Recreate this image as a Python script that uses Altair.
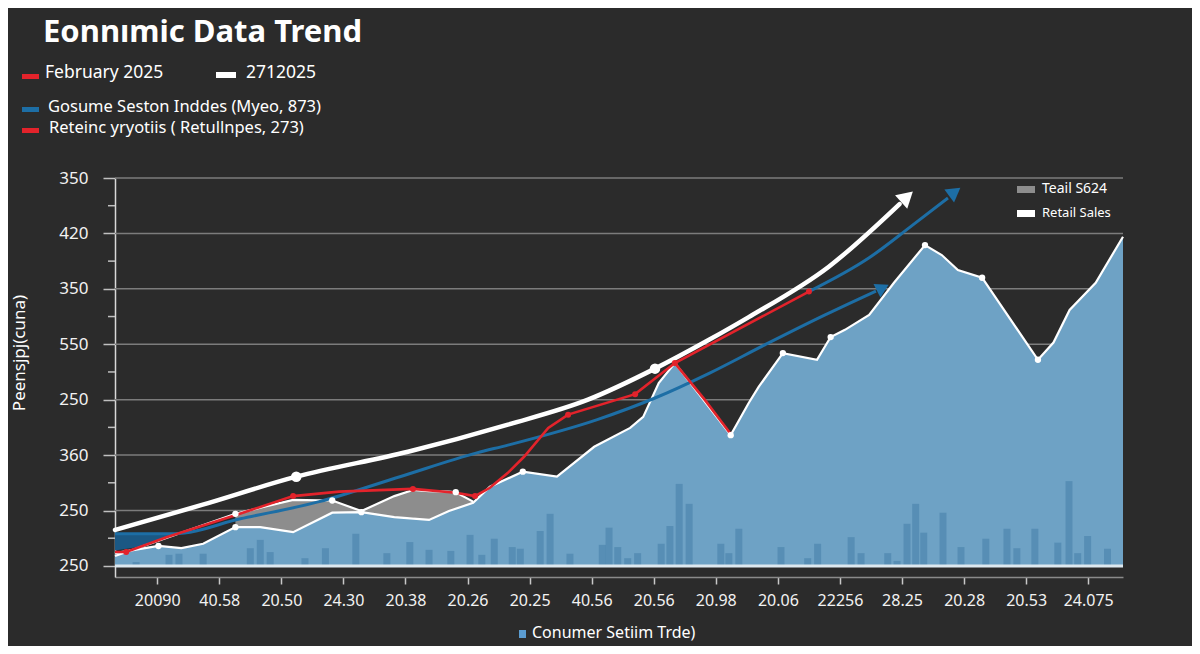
import altair as alt
import pandas as pd

# ---------------- data ----------------
X_LABELS = ["20090", "40.58", "20.50", "24.30", "20.38", "20.26", "20.25", "40.56",
            "20.56", "20.98", "20.06", "22256", "28.25", "20.28", "20.53", "24.075"]
Y_LABELS = ["250", "250", "360", "250", "550", "350", "420", "350"]

AREA_X = [-0.68, 0.02, 0.39, 0.74, 1.26, 1.66, 2.19, 2.82, 3.29, 3.82, 4.38, 4.70, 5.09,
          5.36, 5.89, 6.44, 7.04, 7.62, 7.83, 8.08, 8.34, 9.24, 9.53, 9.69, 10.08, 10.63,
          10.85, 11.08, 11.47, 11.87, 12.37, 12.64, 12.90, 13.29, 14.19, 14.44, 14.70,
          15.12, 15.56]
AREA_Y = [0.23, 0.36, 0.32, 0.40, 0.70, 0.70, 0.61, 0.96, 0.97, 0.88, 0.83, 0.99, 1.14,
          1.43, 1.70, 1.61, 2.15, 2.49, 2.69, 3.30, 3.66, 2.36, 2.94, 3.23, 3.84, 3.72,
          4.13, 4.26, 4.53, 5.11, 5.79, 5.61, 5.34, 5.20, 3.72, 4.03, 4.62, 5.11, 5.94]
AREA_DOT_X = [0.02, 1.26, 3.29, 5.89, 9.24, 10.08, 10.85, 12.37, 13.29, 14.19]
AREA_DOT_Y = [0.36, 0.70, 0.97, 1.70, 2.36, 3.84, 4.13, 5.79, 5.20, 3.72]

BAR_X = [-0.34, 0.19, 0.35, 0.74, 1.50, 1.66, 1.82, 2.38, 2.71, 3.20, 3.70, 4.07, 4.38,
         4.73, 5.04, 5.23, 5.43, 5.72, 5.85, 6.17, 6.33, 6.65, 7.17, 7.28, 7.42, 7.58,
         7.74, 8.12, 8.26, 8.41, 8.57, 9.08, 9.21, 9.37, 10.05, 10.48, 10.64, 11.18,
         11.34, 11.77, 11.92, 12.08, 12.22, 12.35, 12.66, 12.95, 13.35, 13.69, 13.85,
         14.14, 14.51, 14.69, 14.83, 14.99, 15.31]
BAR_H = [0.07, 0.20, 0.22, 0.22, 0.32, 0.47, 0.25, 0.14, 0.32, 0.58, 0.23, 0.43, 0.29,
         0.27, 0.56, 0.20, 0.49, 0.34, 0.31, 0.63, 0.94, 0.22, 0.38, 0.69, 0.34, 0.14,
         0.23, 0.40, 0.72, 1.48, 1.12, 0.40, 0.23, 0.67, 0.34, 0.14, 0.40, 0.52,
         0.23, 0.23, 0.09, 0.76, 1.12, 0.60, 0.96, 0.34, 0.49, 0.67, 0.32,
         0.67, 0.42, 1.53, 0.23, 0.54, 0.31]

BAND_X = [1.26, 1.66, 2.19, 2.82, 3.29, 3.82, 4.12, 4.38, 4.70, 4.81, 5.09]
BAND_TOP = [0.94, 1.05, 1.19, 1.18, 0.99, 1.26, 1.37, 1.35, 1.34, 1.33, 1.16]
BAND_BOTTOM = [0.70, 0.70, 0.61, 0.96, 0.97, 0.88, 0.87, 0.83, 0.99, 1.03, 1.14]
LEAD_X = [-0.68, 1.26]
LEAD_Y = [0.18, 0.94]
BAND_DOT_X = [1.26, 2.82, 4.81]
BAND_DOT_Y = [0.94, 1.18, 1.33]

DARK_X = [-0.68, -0.20, 0.27]
DARK_TOP = [0.58, 0.58, 0.58]
DARK_BOTTOM = [0.28, 0.36, 0.56]

RED_X = [-0.68, -0.50, 0.16, 1.27, 2.19, 2.93, 4.12, 4.81, 5.12, 5.36, 5.65, 5.91,
         6.30, 6.62, 7.70, 8.34, 10.50]
RED_Y = [0.25, 0.25, 0.52, 0.92, 1.26, 1.34, 1.39, 1.32, 1.26, 1.41, 1.68, 1.97,
         2.49, 2.73, 3.10, 3.66, 4.95]
RED_BRANCH_X = [8.34, 8.82, 9.24]
RED_BRANCH_Y = [3.66, 3.00, 2.38]
RED_DOT_X = [-0.50, 2.19, 4.12, 5.12, 6.62, 7.70, 8.34, 10.50]
RED_DOT_Y = [0.25, 1.26, 1.39, 1.26, 2.73, 3.10, 3.66, 4.95]

WHITE_X = [-0.68, 0.72, 2.24, 4.04, 5.65, 6.94, 8.02, 8.89, 9.53, 10.82, 11.96]
WHITE_Y = [0.65, 1.10, 1.61, 2.06, 2.55, 3.00, 3.56, 4.08, 4.49, 5.40, 6.53]
WHITE_DOT_X = [2.24, 8.02]
WHITE_DOT_Y = [1.61, 3.56]
WHITE_ARROW_X = [12.08]
WHITE_ARROW_Y = [6.66]

BLUE1_X = [-0.68, 0.27, 1.34, 2.61, 3.91, 5.15, 5.65, 7.09, 8.02, 8.90, 9.79, 10.76, 11.58]
BLUE1_Y = [0.58, 0.58, 0.85, 1.16, 1.61, 2.04, 2.18, 2.64, 3.03, 3.48, 3.99, 4.53, 4.96]
BLUE1_ARROW_X = [11.69]
BLUE1_ARROW_Y = [5.02]
BLUE2_X = [10.50, 11.47, 12.16, 12.74]
BLUE2_Y = [4.95, 5.56, 6.14, 6.64]
BLUE2_ARROW_X = [12.85]
BLUE2_ARROW_Y = [6.75]

GRID_Y = [1, 2, 3, 4, 5, 6, 7]
MINOR_Y = [0.5, 1.5, 2.5, 3.5, 4.5, 5.5, 6.5]
BASE_Y = [0]

# ---------------- styling ----------------
W, H = 1008, 399
XDOM = [-0.68, 15.56]
YDOM = [-0.2, 7]
BG = "#2b2b2b"
FONT = "Noto Sans"
RED = "#e3232b"
BLUE = "#1d6ea5"
AREA = "#6ea2c5"

xs = alt.Scale(domain=XDOM, nice=False, zero=False)
ys = alt.Scale(domain=YDOM, nice=False, zero=False)

x_expr = "[" + ",".join("'" + s + "'" for s in X_LABELS) + "][datum.value]"
y_expr = "[" + ",".join("'" + s + "'" for s in Y_LABELS) + "][datum.value]"

x_axis = alt.Axis(values=list(range(len(X_LABELS))), labelExpr=x_expr, title=None,
                  grid=False, tickSize=7, tickWidth=1.5, tickColor="#c8c8c8",
                  domainColor="#8a8a8a", domainWidth=1.5, labelPadding=8,
                  labelFontSize=16, labelColor="#f2f2f2", labelFont=FONT,
                  labelOverlap=False, labelFlush=False)
y_axis = alt.Axis(values=list(range(len(Y_LABELS))), labelExpr=y_expr, title=None,
                  grid=False, tickSize=12, tickWidth=1.5, tickColor="#c0c0c0",
                  domainColor="#d8d8d8", domainWidth=1.5, labelPadding=15,
                  labelFontSize=17, labelColor="#f2f2f2", labelFont=FONT,
                  labelOverlap=False)


def X(f):
    return alt.X(f + ":Q", scale=xs, axis=x_axis)


def Y(f):
    return alt.Y(f + ":Q", scale=ys, axis=y_axis)


def df(**cols):
    return pd.DataFrame(cols)


layers = []

# gridlines
layers.append(alt.Chart(df(v=GRID_Y)).mark_rule(color="#7c7c7c", strokeWidth=1.5).encode(
    y=Y("v"), x=alt.value(0), x2=alt.value(W)))

# light blue area
layers.append(alt.Chart(df(x=AREA_X, y=AREA_Y)).mark_area(color=AREA, opacity=1).encode(
    x=X("x"), y=Y("y"), y2=alt.datum(0)))

# faint columns inside the area
layers.append(alt.Chart(df(x=BAR_X, h=BAR_H)).mark_rule(color="#2e6a99", opacity=0.35,
                                                         strokeWidth=7).encode(
    x=X("x"), y=Y("h"), y2=alt.datum(0)))

# gray band
layers.append(alt.Chart(df(x=BAND_X, t=BAND_TOP, b=BAND_BOTTOM)).mark_area(
    color="#8d8d8d", opacity=1).encode(x=X("x"), y=Y("t"), y2=alt.Y2("b:Q")))

# dark blue block at start
layers.append(alt.Chart(df(x=DARK_X, t=DARK_TOP, b=DARK_BOTTOM)).mark_area(
    color="#1b5884", opacity=1).encode(x=X("x"), y=Y("t"), y2=alt.Y2("b:Q")))

# white outline of area
layers.append(alt.Chart(df(x=AREA_X, y=AREA_Y)).mark_line(color="white", strokeWidth=2.2).encode(
    x=X("x"), y=Y("y")))

# band top white line (with lead-in)
layers.append(alt.Chart(df(x=LEAD_X + BAND_X, y=LEAD_Y + BAND_TOP)).mark_line(
    color="white", strokeWidth=2.2).encode(x=X("x"), y=Y("y")))

# blue trend lines
layers.append(alt.Chart(df(x=BLUE1_X, y=BLUE1_Y)).mark_line(
    color=BLUE, strokeWidth=3, interpolate="monotone").encode(x=X("x"), y=Y("y")))
layers.append(alt.Chart(df(x=BLUE2_X, y=BLUE2_Y)).mark_line(
    color=BLUE, strokeWidth=3, interpolate="monotone").encode(x=X("x"), y=Y("y")))

# thick white trend line
layers.append(alt.Chart(df(x=WHITE_X, y=WHITE_Y)).mark_line(
    color="white", strokeWidth=4.5, interpolate="monotone", strokeCap="round").encode(
    x=X("x"), y=Y("y")))

# red lines
layers.append(alt.Chart(df(x=RED_X, y=RED_Y)).mark_line(color=RED, strokeWidth=2.6).encode(
    x=X("x"), y=Y("y")))
layers.append(alt.Chart(df(x=RED_BRANCH_X, y=RED_BRANCH_Y)).mark_line(
    color=RED, strokeWidth=2.6).encode(x=X("x"), y=Y("y")))

# dots
layers.append(alt.Chart(df(x=AREA_DOT_X, y=AREA_DOT_Y)).mark_point(
    filled=True, color="white", size=40, opacity=1).encode(x=X("x"), y=Y("y")))
layers.append(alt.Chart(df(x=BAND_DOT_X, y=BAND_DOT_Y)).mark_point(
    filled=True, color="white", size=40, opacity=1).encode(x=X("x"), y=Y("y")))
layers.append(alt.Chart(df(x=RED_DOT_X, y=RED_DOT_Y)).mark_point(
    filled=True, color=RED, size=36, opacity=1).encode(x=X("x"), y=Y("y")))
layers.append(alt.Chart(df(x=WHITE_DOT_X, y=WHITE_DOT_Y)).mark_point(
    filled=True, color="white", size=110, opacity=1).encode(x=X("x"), y=Y("y")))

# arrow heads
layers.append(alt.Chart(df(x=WHITE_ARROW_X, y=WHITE_ARROW_Y)).mark_point(
    shape="triangle-up", filled=True, color="white", size=330, opacity=1, angle=48).encode(
    x=X("x"), y=Y("y")))
layers.append(alt.Chart(df(x=BLUE1_ARROW_X, y=BLUE1_ARROW_Y)).mark_point(
    shape="triangle-up", filled=True, color=BLUE, size=230, opacity=1, angle=63).encode(
    x=X("x"), y=Y("y")))
layers.append(alt.Chart(df(x=BLUE2_ARROW_X, y=BLUE2_ARROW_Y)).mark_point(
    shape="triangle-up", filled=True, color=BLUE, size=260, opacity=1, angle=53).encode(
    x=X("x"), y=Y("y")))

# baseline
layers.append(alt.Chart(df(v=BASE_Y)).mark_rule(color="#dde8ef", strokeWidth=3).encode(
    y=Y("v"), x=alt.value(0), x2=alt.value(W)))

# minor ticks on y axis
layers.append(alt.Chart(df(v=MINOR_Y)).mark_rule(color="#c0c0c0", strokeWidth=1.5).encode(
    y=Y("v"), x=alt.value(-7), x2=alt.value(0)))


def txt(s, x, y, size, weight="normal", align="left", baseline="middle", angle=0,
        color="white"):
    return alt.Chart(df(t=[s])).mark_text(
        align=align, baseline=baseline, fontSize=size, fontWeight=weight, color=color,
        font=FONT, angle=angle).encode(x=alt.value(x), y=alt.value(y), text="t:N")


def swatch(x1, x2, y1, y2, color):
    return alt.Chart(df(a=[0])).mark_rect(color=color).encode(
        x=alt.value(x1), x2=alt.value(x2), y=alt.value(y1), y2=alt.value(y2))


# title and legends
layers.append(txt("Eonnımic Data Trend", -72, -136, 31, weight="bold", baseline="alphabetic"))
layers.append(swatch(-93, -76, -104, -99, RED))
layers.append(txt("February 2025", -70, -105, 17.5))
layers.append(swatch(101, 121, -106, -100, "white"))
layers.append(txt("2712025", 131, -105, 17.5))
layers.append(swatch(-93, -76, -71, -66, BLUE))
layers.append(txt("Gosume Seston Inddes (Myeo, 873)", -67, -71, 16.5))
layers.append(swatch(-93, -76, -50, -45, RED))
layers.append(txt("Reteinc yryotiis ( Retullnpes, 273)", -66, -50, 16.5))

layers.append(swatch(902, 920, 8, 15, "#8d8d8d"))
layers.append(txt("Teail S624", 927, 11, 14))
layers.append(swatch(902, 920, 32, 39, "white"))
layers.append(txt("Retail Sales", 927, 35, 13))

layers.append(swatch(404, 411, 452, 460, "#5b9cd0"))
layers.append(txt("Conumer Setiim Trde)", 417, 455, 16))

layers.append(txt("Peensjpj(cuna)", -95, 175, 17, align="center", angle=270))

chart = alt.layer(*layers).properties(
    width=W, height=H, background=BG,
    padding={"left": 107, "top": 170, "right": 69, "bottom": 69},
    autosize=alt.AutoSizeParams(type="none"),
).configure_view(stroke=None)

chart.save("out.html", embed_options={"renderer": "svg", "actions": False})
